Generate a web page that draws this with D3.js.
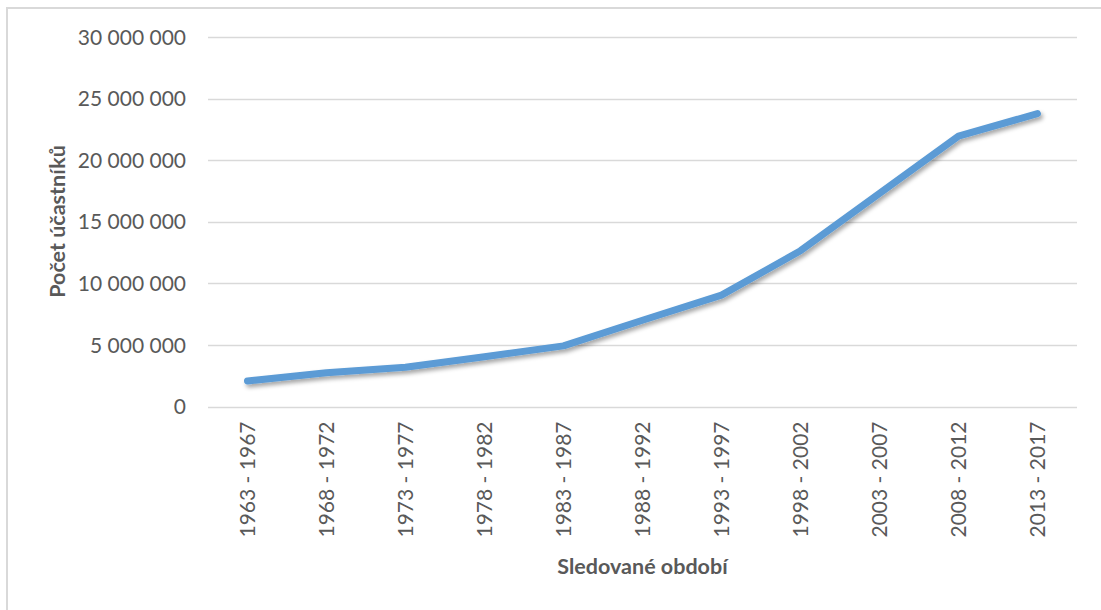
<!DOCTYPE html>
<html>
<head>
<meta charset="utf-8">
<script src="https://cdn.jsdelivr.net/npm/d3@7"></script>
<style>
  html, body { margin: 0; padding: 0; background: #fff; }
  svg { display: block; }
</style>
</head>
<body>
<svg id="chart" width="1101" height="610"></svg>
<script>
// Počet účastníků v jednotlivých pětiletých obdobích
const periods = ["1963 - 1967", "1968 - 1972", "1973 - 1977", "1978 - 1982", "1983 - 1987",
                 "1988 - 1992", "1993 - 1997", "1998 - 2002", "2003 - 2007", "2008 - 2012", "2013 - 2017"];
const participants = [2070000, 2740000, 3180000, 4040000, 4920000,
                      7000000, 9040000, 12650000, 17300000, 21950000, 23780000];
const yTicks = [0, 5000000, 10000000, 15000000, 20000000, 25000000, 30000000];

const svg = d3.select("#chart");
const W = 1101, H = 610;
const plot = { left: 208, right: 1077, top: 37, bottom: 406.5 };
const textColor = "#595959";
const font = "Lato, 'Open Sans', sans-serif";

// outer chart frame
svg.append("rect")
  .attr("x", 7).attr("y", 8)
  .attr("width", W).attr("height", H)
  .attr("fill", "#fff")
  .attr("stroke", "#d9d9d9").attr("stroke-width", 2);

const x = d3.scaleBand().domain(periods).range([plot.left, plot.right]);
const y = d3.scaleLinear().domain([0, 30000000]).range([plot.bottom, plot.top]);

// thousands separated by spaces
const fmt = d => d3.format(",")(d).replace(/,/g, " ");

// horizontal gridlines
svg.append("g")
  .selectAll("line")
  .data(yTicks)
  .join("line")
  .attr("x1", plot.left).attr("x2", plot.right)
  .attr("y1", d => Math.round(y(d)) + 0.5).attr("y2", d => Math.round(y(d)) + 0.5)
  .attr("stroke", "#d9d9d9").attr("stroke-width", 1.5);

// y axis labels
const yAxis = svg.append("g")
  .attr("transform", `translate(${plot.left - 22},0)`)
  .call(d3.axisLeft(y).tickValues(yTicks).tickFormat(fmt).tickSize(0).tickPadding(0));
yAxis.select(".domain").remove();
yAxis.selectAll("text")
  .attr("fill", textColor)
  .style("font-family", font)
  .style("font-size", "21px")
  .attr("dy", "0.34em");

// x axis labels, rotated
const xAxis = svg.append("g")
  .attr("transform", `translate(0,${plot.bottom})`)
  .call(d3.axisBottom(x).tickSize(0).tickPadding(0));
xAxis.select(".domain").remove();
xAxis.selectAll("text")
  .attr("fill", textColor)
  .style("font-family", font)
  .style("font-size", "21px")
  .attr("text-anchor", "end")
  .attr("transform", "translate(0,15) rotate(-90)")
  .attr("x", 0).attr("y", 0)
  .attr("dy", "0.35em");

// axis titles
svg.append("text")
  .attr("x", (plot.left + plot.right) / 2).attr("y", 574)
  .attr("text-anchor", "middle")
  .attr("fill", textColor)
  .style("font-family", font).style("font-weight", "bold").style("font-size", "21.5px")
  .text("Sledované období");

svg.append("text")
  .attr("transform", `translate(65,${(143 + 300) / 2}) rotate(-90)`)
  .attr("text-anchor", "middle")
  .attr("fill", textColor)
  .style("font-family", font).style("font-weight", "bold").style("font-size", "21.5px")
  .text("Počet účastníků");

// soft shadow under the series line
const defs = svg.append("defs");
const f = defs.append("filter").attr("id", "shadow")
  .attr("x", "-5%").attr("y", "-5%").attr("width", "110%").attr("height", "120%");
f.append("feDropShadow")
  .attr("dx", 2).attr("dy", 3).attr("stdDeviation", 2)
  .attr("flood-color", "#000").attr("flood-opacity", 0.35);

const line = d3.line()
  .x((d, i) => x(periods[i]) + x.bandwidth() / 2)
  .y(d => y(d));

svg.append("path")
  .datum(participants)
  .attr("d", line)
  .attr("fill", "none")
  .attr("stroke", "#5b9bd5")
  .attr("stroke-width", 7)
  .attr("stroke-linecap", "round")
  .attr("stroke-linejoin", "round")
  .attr("filter", "url(#shadow)");
</script>
</body>
</html>
